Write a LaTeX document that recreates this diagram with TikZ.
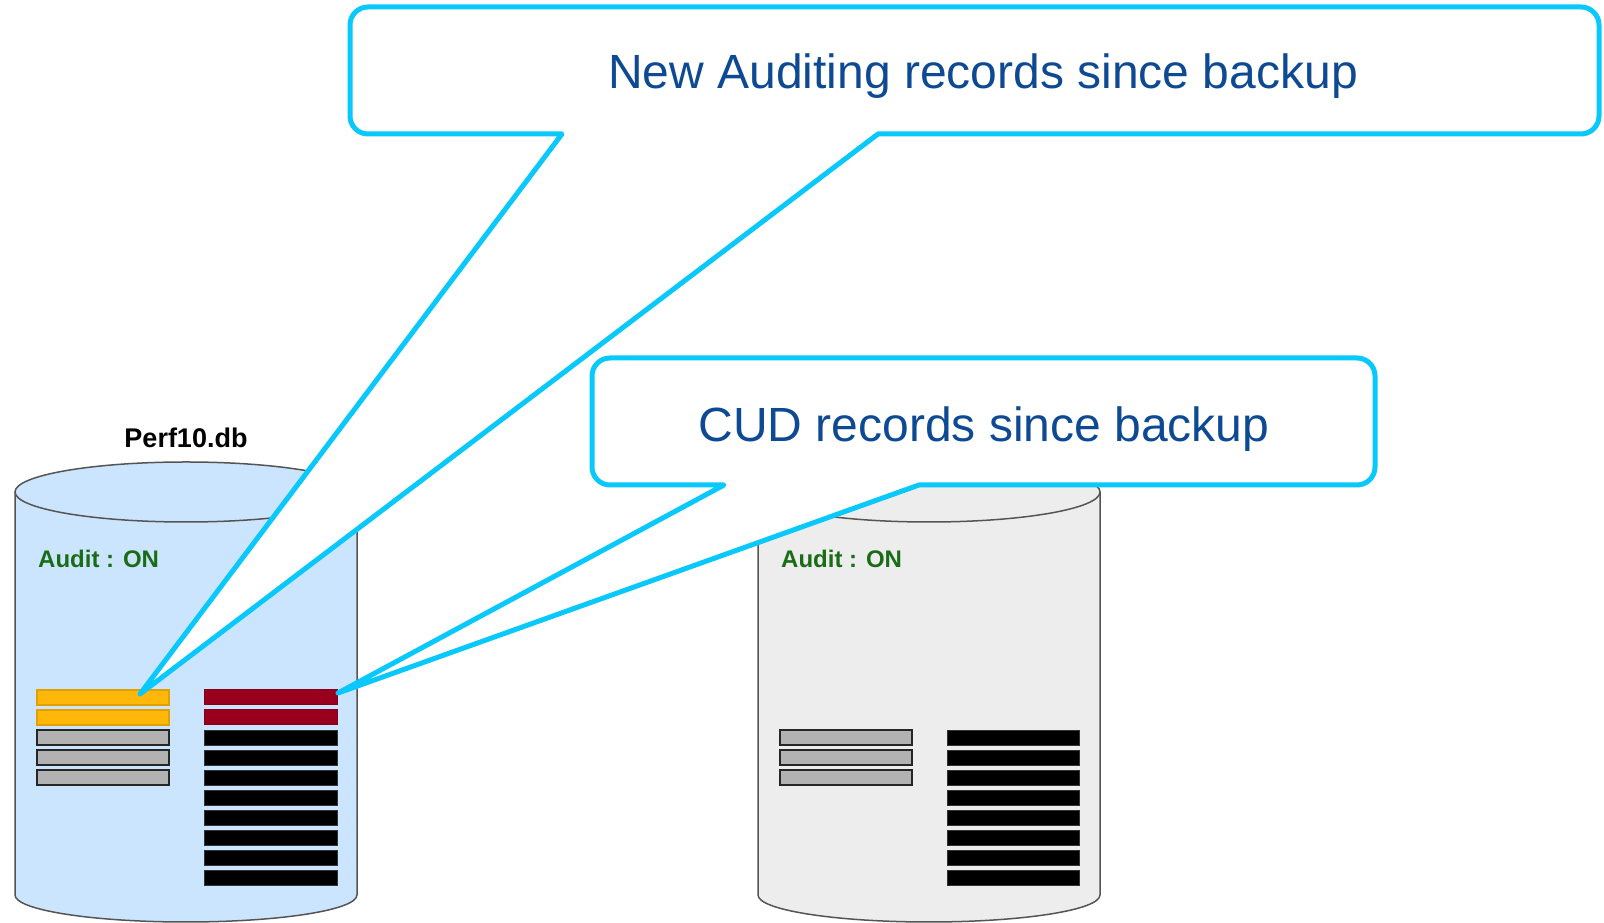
\documentclass[tikz,border=0pt]{standalone}
\usepackage{fontspec}
\setmainfont{Liberation Sans}
\definecolor{calloutcyan}{RGB}{8,200,252}
\definecolor{textblue}{RGB}{14,74,148}
\definecolor{auditgreen}{RGB}{26,108,22}
\definecolor{cylblue}{RGB}{204,229,255}
\definecolor{cylgray}{RGB}{237,237,237}
\definecolor{cylline}{RGB}{85,85,85}
\definecolor{barorange}{RGB}{255,184,10}
\definecolor{barorangeline}{RGB}{226,160,0}
\definecolor{barred}{RGB}{153,0,30}
\definecolor{barredline}{RGB}{130,0,25}
\definecolor{bargray}{RGB}{178,178,178}
\begin{document}
\begin{tikzpicture}[x=1pt,y=1pt,
  cylbody/.style={draw=cylline, line width=1.5pt},
  callout/.style={draw=calloutcyan, fill=white, line width=5pt, line join=round},
  bigtext/.style={text=textblue, font=\fontsize{48}{56}\selectfont, anchor=base, inner sep=0pt},
  dblabel/.style={font=\bfseries\fontsize{27}{32}\selectfont, anchor=base, inner sep=0pt},
  audit/.style={text=auditgreen, font=\bfseries\fontsize{24}{28}\selectfont, anchor=base west, inner sep=0pt},
  orangebar/.style={fill=barorange, draw=barorangeline, line width=1.2pt},
  redbar/.style={fill=barred, draw=barredline, line width=1pt},
  graybar/.style={fill=bargray, draw=black!85, line width=1.8pt},
  blackbar/.style={fill=black, draw=black!80, line width=0.8pt}
]
\useasboundingbox (0,0) rectangle (1604,923);
\fill[white] (0,0) rectangle (1604,923);

% cylinder 1 (blue)
\fill[cylblue] (15,431) -- (15,28) arc[start angle=180,end angle=360,x radius=171,y radius=27] -- (357,431) -- cycle;
\fill[cylblue] (186,431) ellipse[x radius=171,y radius=30];
\draw[cylbody] (15,431) -- (15,28) arc[start angle=180,end angle=360,x radius=171,y radius=27] -- (357,431);
\draw[cylbody] (186,431) ellipse[x radius=171,y radius=30];

% cylinder 2 (gray)
\fill[cylgray] (758,431) -- (758,28) arc[start angle=180,end angle=360,x radius=171,y radius=27] -- (1100,431) -- cycle;
\fill[cylgray] (929,431) ellipse[x radius=171,y radius=30];
\draw[cylbody] (758,431) -- (758,28) arc[start angle=180,end angle=360,x radius=171,y radius=27] -- (1100,431);
\draw[cylbody] (929,431) ellipse[x radius=171,y radius=30];

% bars cylinder 1
\foreach \k in {0,1} \draw[orangebar] (37,{233-20*\k}) rectangle (169,{218-20*\k});
\foreach \k in {2,3,4} \draw[graybar] (37,{233-20*\k}) rectangle (169,{218-20*\k});
\foreach \k in {0,1} \draw[redbar] (204,{233-20*\k}) rectangle (337,{218-20*\k});
\foreach \k in {2,...,9} \draw[blackbar] (204,{233-20*\k}) rectangle (337,{218-20*\k});

% bars cylinder 2
\foreach \k in {2,3,4} \draw[graybar] (780,{233-20*\k}) rectangle (912,{218-20*\k});
\foreach \k in {2,...,9} \draw[blackbar] (947,{233-20*\k}) rectangle (1079,{218-20*\k});

% labels
\node[dblabel] (dbname) at (186,475) {Perf10.db};
\node[audit] (audit1) at (38,355) {Audit : ON};
\node[audit] (audit2) at (781,355) {Audit : ON};

% callout 1
\coordinate (tip1) at (140,229);
\coordinate (c1l) at (562,789);
\coordinate (c1r) at (878,789);
\draw[callout] (c1l) -- (tip1) -- (c1r) -- (1581,789)
  arc[start angle=-90,end angle=0,radius=18] -- (1599,898)
  arc[start angle=0,end angle=90,radius=18] -- (368,916)
  arc[start angle=90,end angle=180,radius=18] -- (350,807)
  arc[start angle=180,end angle=270,radius=18] -- cycle;
\node[bigtext] (t1) at (983,834) {New Auditing records since backup};

% callout 2
\coordinate (tip2) at (338,230);
\coordinate (c2l) at (724,438);
\coordinate (c2r) at (919,438);
\draw[callout] (c2l) -- (tip2) -- (c2r) -- (1357,438)
  arc[start angle=-90,end angle=0,radius=18] -- (1375,547)
  arc[start angle=0,end angle=90,radius=18] -- (610,565)
  arc[start angle=90,end angle=180,radius=18] -- (592,456)
  arc[start angle=180,end angle=270,radius=18] -- cycle;
\node[bigtext] (t2) at (984,481) {CUD records since backup};
\end{tikzpicture}
\end{document}
